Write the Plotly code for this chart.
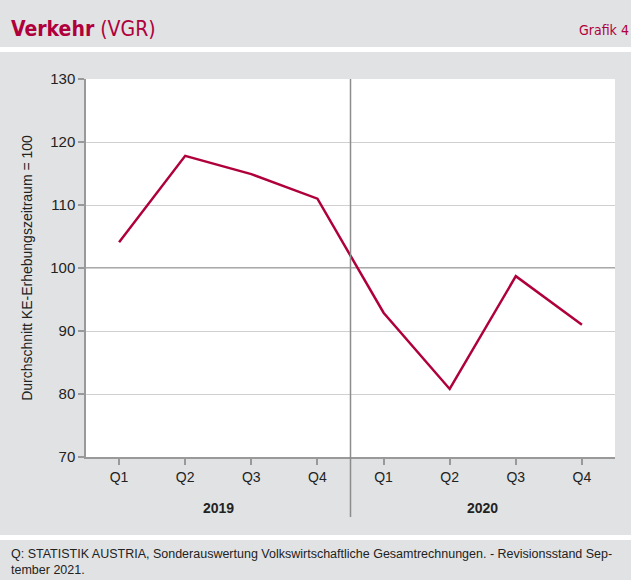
import plotly.graph_objects as go

quarters = ["Q1", "Q2", "Q3", "Q4", "Q1", "Q2", "Q3", "Q4"]
years = ["2019", "2020"]
values = [104.1, 117.8, 114.9, 111.0, 92.9, 80.8, 98.7, 91.0]
y_ticks = [70, 80, 90, 100, 110, 120, 130]

W, H = 631, 580
L, R, T, B = 86, 615, 79, 457
GRAY = "#e1e2e4"
RED = "#b0003c"
FONT = "Liberation Sans, Arial, sans-serif"
TFONT = "DejaVu Sans Condensed, Liberation Sans, sans-serif"

def px(xp):
    return (xp - L) / (R - L)

def py(yp):
    return (B - yp) / (B - T)

x = list(range(len(values)))
fig = go.Figure()
fig.add_trace(go.Scatter(x=x, y=values, mode="lines",
                         line=dict(color=RED, width=2.5), hoverinfo="skip"))

shapes = [
    dict(type="rect", xref="paper", yref="paper", x0=px(0), x1=px(W), y0=py(47), y1=py(0),
         fillcolor=GRAY, line_width=0, layer="below"),
    dict(type="rect", xref="paper", yref="paper", x0=px(0), x1=px(W), y0=py(535), y1=py(52),
         fillcolor=GRAY, line_width=0, layer="below"),
    dict(type="rect", xref="paper", yref="paper", x0=px(0), x1=px(W), y0=py(580), y1=py(540),
         fillcolor=GRAY, line_width=0, layer="below"),
    dict(type="rect", xref="paper", yref="paper", x0=0, x1=1, y0=0, y1=1,
         fillcolor="white", line_width=0, layer="below"),
    dict(type="line", xref="paper", yref="y", x0=0, x1=1, y0=100, y1=100,
         line=dict(color="#8c8c8c", width=1.5), layer="below"),
    dict(type="line", xref="x", yref="paper", x0=3.5, x1=3.5, y0=py(517), y1=1,
         line=dict(color="#8c8c8c", width=1.5), layer="above"),
]

annotations = [
    dict(text="<b>Verkehr</b> (VGR)", xref="paper", yref="paper", x=px(9), y=py(29),
         xanchor="left", yanchor="middle", showarrow=False,
         font=dict(family=TFONT, size=21, color=RED)),
    dict(text="Grafik 4", xref="paper", yref="paper", x=px(631), y=py(30),
         xanchor="right", yanchor="middle", showarrow=False,
         font=dict(family=TFONT, size=14, color=RED)),
    dict(text="Q: STATISTIK AUSTRIA, Sonderauswertung Volkswirtschaftliche Gesamtrechnungen. - Revisionsstand Sep-<br>tember 2021.",
         xref="paper", yref="paper", x=px(9), y=py(545), xanchor="left", yanchor="top",
         align="left", showarrow=False,
         font=dict(family=FONT, size=12.5, color="#222222")),
    dict(text="<b>%s</b>" % years[0], xref="x", yref="paper", x=1.5, y=py(508),
         xanchor="center", yanchor="middle", showarrow=False,
         font=dict(family=FONT, size=14, color="#222222")),
    dict(text="<b>%s</b>" % years[1], xref="x", yref="paper", x=5.5, y=py(508),
         xanchor="center", yanchor="middle", showarrow=False,
         font=dict(family=FONT, size=14, color="#222222")),
]

fig.update_layout(
    width=W, height=H,
    margin=dict(l=L, r=W - R, t=T, b=H - B, pad=0),
    paper_bgcolor="white", plot_bgcolor="rgba(0,0,0,0)",
    showlegend=False,
    shapes=shapes, annotations=annotations,
    font=dict(family=FONT, size=14, color="#222222"),
    xaxis=dict(range=[-0.5, 7.5], tickvals=x, ticktext=quarters,
               showgrid=False, zeroline=False,
               showline=True, linecolor="#999999", linewidth=1.5,
               ticks="outside", ticklen=6, tickcolor="#999999", tickwidth=1.5,
               tickfont=dict(family=FONT, size=14, color="#222222")),
    yaxis=dict(range=[70, 130], tickvals=y_ticks,
               showgrid=True, gridcolor="#d0d0d0", gridwidth=1, zeroline=False,
               showline=True, linecolor="#999999", linewidth=1.5,
               ticks="outside", ticklen=6, tickcolor="#999999", tickwidth=1.5,
               tickfont=dict(family=FONT, size=15, color="#222222"),
               title=dict(text="Durchschnitt KE-Erhebungszeitraum = 100",
                          font=dict(family=FONT, size=14, color="#222222"),
                          standoff=14)),
)

fig.write_html("out.html", config={"displayModeBar": False},
               post_script="document.body.style.margin='0';")
